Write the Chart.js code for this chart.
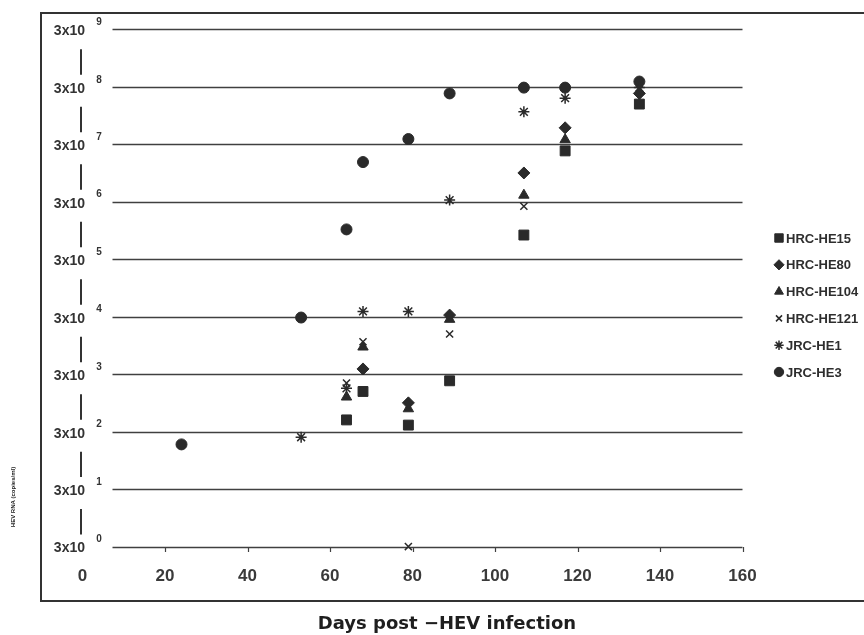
<!DOCTYPE html>
<html>
<head>
<meta charset="utf-8">
<script src="https://cdn.jsdelivr.net/npm/chart.js@4/dist/chart.umd.min.js"></script>
<style>
html,body{margin:0;padding:0;background:#fff;}
#wrap{width:864px;height:635px;}
</style>
</head>
<body>
<div id="wrap"><canvas id="chart" width="864" height="635"></canvas></div>
<script>
// tick values
const xTicks = [0,20,40,60,80,100,120,140,160];
const yTicks = [3,3e1,3e2,3e3,3e4,3e5,3e6,3e7,3e8,3e9];
const yExponents = ["0","1","2","3","4","5","6","7","8","9"];

// series (days post infection / copies)
const he15X = [64,68,79,89,107,117,135];
const he15Y = [4.8e2,1.5e3,3.9e2,2.3e3,7.9e5,2.3e7,1.5e8];
const he80X = [68,79,89,107,117,135];
const he80Y = [3.7e3,9.5e2,3.2e4,9.5e6,5.8e7,2.3e8];
const he104X = [64,68,79,89,107,117];
const he104Y = [1.2e3,8.9e3,7.5e2,2.7e4,3.9e6,3.6e7];
const he121X = [64,68,79,89,107,135];
const he121Y = [2.1e3,1.1e4,3,1.5e4,2.5e6,2.7e8];
const jrc1X = [53,64,68,79,89,107,117,135];
const jrc1Y = [2.4e2,1.7e3,3.7e4,3.7e4,3.2e6,1.1e8,1.9e8,2.9e8];
const jrc3X = [24,53,64,68,79,89,107,117,135];
const jrc3Y = [1.8e2,2.9e4,9.9e5,1.47e7,3.7e7,2.3e8,2.9e8,2.9e8,3.7e8];

const seriesNames = ["HRC-HE15","HRC-HE80","HRC-HE104","HRC-HE121","JRC-HE1","JRC-HE3"];

const ink = "#2a2a2a";

function pts(xs, ys){ return xs.map((x,i)=>({x:x, y:ys[i]})); }

function makeSet(name, xs, ys, style, radius, bw){
    return {
        label:name, data:pts(xs,ys), pointStyle:style, pointRadius:radius,
        pointBackgroundColor:ink, pointBorderColor:ink, pointBorderWidth:bw,
        showLine:false, clip:false
    };
}

const datasets = [
    makeSet(seriesNames[0], he15X, he15Y, "rect", 7, 1),
    makeSet(seriesNames[1], he80X, he80Y, "rectRot", 6, 1),
    makeSet(seriesNames[2], he104X, he104Y, "triangle", 6, 1),
    makeSet(seriesNames[3], he121X, he121Y, "crossRot", 5, 1.5),
    makeSet(seriesNames[4], jrc1X, jrc1Y, "star", 5.5, 1.5),
    makeSet(seriesNames[5], jrc3X, jrc3Y, "circle", 5.5, 1)
];

// frame, grid lines, y labels, legend, title
const decor = {
    id:"decor",
    beforeDatasetsDraw(chart){
        const ctx = chart.ctx, xs = chart.scales.x, ys = chart.scales.y;
        const gridStart = chart.chartArea.left + 30;
        ctx.save();
        // outer frame
        ctx.strokeStyle = "#333"; ctx.lineWidth = 2;
        ctx.strokeRect(41, 13, 900, 588);
        // horizontal lines
        ctx.strokeStyle = "#404040"; ctx.lineWidth = 1.3;
        yTicks.forEach(v=>{
            const y = Math.round(ys.getPixelForValue(v)) + 0.5;
            ctx.beginPath(); ctx.moveTo(gridStart, y); ctx.lineTo(chart.chartArea.right, y); ctx.stroke();
        });
        // x tick marks
        const yb = Math.round(ys.getPixelForValue(yTicks[0]));
        ctx.lineWidth = 1.2;
        xTicks.forEach(v=>{
            const x = Math.round(xs.getPixelForValue(v)) + 0.5;
            if(x < gridStart) return;
            ctx.beginPath(); ctx.moveTo(x, yb); ctx.lineTo(x, yb + 5); ctx.stroke();
        });
        // y labels "3x10^n"
        ctx.fillStyle = "#333";
        ctx.textBaseline = "middle";
        yTicks.forEach((v,i)=>{
            const y = ys.getPixelForValue(v);
            ctx.font = "bold 14px 'Liberation Sans', Arial, sans-serif";
            ctx.textAlign = "right";
            ctx.fillText("3x10", 85, y + 2);
            ctx.font = "bold 10px 'Liberation Sans', Arial, sans-serif";
            ctx.textAlign = "center";
            ctx.fillText(yExponents[i], 99, y - 7);
        });
        // broken axis bars between labels
        ctx.strokeStyle = "#333"; ctx.lineWidth = 2;
        for(let i = 0; i < yTicks.length - 1; i++){
            const lo = ys.getPixelForValue(yTicks[i]);
            const hi = ys.getPixelForValue(yTicks[i+1]);
            ctx.beginPath(); ctx.moveTo(81, hi + 20); ctx.lineTo(81, lo - 12); ctx.stroke();
        }
        ctx.restore();
    },
    afterDraw(chart){
        const ctx = chart.ctx;
        ctx.save();
        // legend
        chart.data.datasets.forEach((ds,i)=>{
            const y = 238 + i * 26.8;
            ctx.fillStyle = ink; ctx.strokeStyle = ink;
            ctx.lineWidth = ds.pointBorderWidth;
            Chart.helpers.drawPoint(ctx, {pointStyle:ds.pointStyle, radius:ds.pointRadius * 0.85, rotation:0, borderWidth:ds.pointBorderWidth}, 779, y);
            ctx.fillStyle = "#2e2e2e";
            ctx.font = "bold 13px 'Liberation Sans', Arial, sans-serif";
            ctx.textAlign = "left"; ctx.textBaseline = "middle";
            ctx.fillText(ds.label, 786, y + 1);
        });
        // x axis title
        ctx.fillStyle = "#1e1e1e";
        ctx.font = "bold 18px 'DejaVu Sans', sans-serif";
        ctx.textAlign = "center"; ctx.textBaseline = "middle";
        ctx.fillText("Days post \u2212HEV infection", 447, 624);
        // small vertical y title
        ctx.translate(13, 497);
        ctx.rotate(-Math.PI/2);
        ctx.font = "bold 6px 'Liberation Sans', Arial, sans-serif";
        ctx.fillStyle = "#222";
        ctx.fillText("HEV RNA (copies/ml)", 0, 0);
        ctx.restore();
    }
};

new Chart(document.getElementById("chart").getContext("2d"), {
    type:"scatter",
    data:{datasets:datasets},
    options:{
        responsive:false, animation:false, devicePixelRatio:1,
        layout:{padding:{left:82.5, right:121.5, top:29.3, bottom:28}},
        plugins:{legend:{display:false}, tooltip:{enabled:false}},
        scales:{
            x:{
                type:"linear", min:0, max:160,
                afterBuildTicks:(s)=>{ s.ticks = xTicks.map(v=>({value:v})); },
                grid:{display:false, drawTicks:false},
                border:{display:false},
                ticks:{padding:20, color:"#3a3a3a", font:{family:"'Liberation Sans', Arial, sans-serif", size:17, weight:"bold"}}
            },
            y:{
                type:"logarithmic", min:3, max:3e9, display:false,
                afterBuildTicks:(s)=>{ s.ticks = yTicks.map(v=>({value:v})); }
            }
        }
    },
    plugins:[decor]
});
</script>
</body>
</html>
